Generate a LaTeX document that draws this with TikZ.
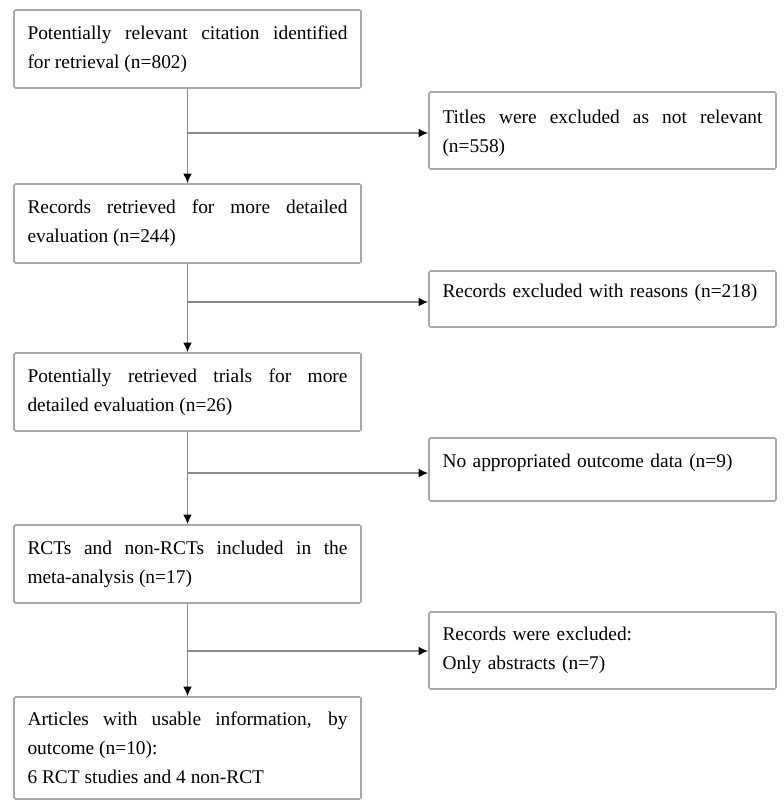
\documentclass[tikz,border=0pt]{standalone}
\usepackage{fontspec}
\setmainfont{Liberation Serif}
\usetikzlibrary{arrows.meta}
\definecolor{boxline}{HTML}{A8A8A8}
\definecolor{conline}{HTML}{8A8A8A}
\tikzset{
  x=1pt, y=-1pt,
  flowbox/.style={draw=boxline, line width=1.6pt, rounded corners=1.5pt,
    minimum width=347pt, text width=320pt, inner xsep=13.5pt, inner ysep=0pt,
    align=justify, font=\fontsize{19.4}{29}\selectfont, text=black},
  sidebox/.style={flowbox, align=left},
  conn/.style={draw=conline, line width=1.3pt,
    -{Latex[length=9.5pt,width=8.5pt,color=black]}},
  branch/.style={draw=conline, line width=1.3pt}
}
\begin{document}
\begin{tikzpicture}
\useasboundingbox (0,0) rectangle (784,809);
% main column
\node[flowbox, minimum height=78pt] (b1) at (187.5,49)
  {Potentially relevant citation identified\linebreak for retrieval (n=802)};
\node[flowbox, minimum height=79pt] (b2) at (187.5,223.5)
  {Records retrieved for more detailed\linebreak evaluation (n=244)};
\node[flowbox, minimum height=78pt] (b3) at (187.5,392)
  {Potentially retrieved trials for more\linebreak detailed evaluation (n=26)};
\node[flowbox, minimum height=78pt] (b4) at (187.5,564)
  {RCTs and non-RCTs included in the\linebreak meta-analysis (n=17)};
\node[flowbox, minimum height=102pt] (b5) at (187.5,748)
  {Articles with usable information, by\linebreak outcome (n=10):\newline 6 RCT studies and 4 non-RCT};
% side boxes
\node[flowbox, minimum height=77pt, text height=19pt] (r1) at (602.5,130.5)
  {Titles were excluded as not relevant\linebreak (n=558)};
\node[sidebox, minimum height=56pt, text depth=16pt] (r2) at (602.5,299)
  {Records excluded with reasons (n=218)};
\node[sidebox, minimum height=63pt, text depth=17pt] (r3) at (602.5,469.5)
  {No appropriated outcome data (n=9)};
\node[sidebox, minimum height=77pt] (r4) at (602.5,650.5)
  {Records were excluded:\\Only abstracts (n=7)};
% junctions on the main column
\coordinate (j1) at (187.5,133);
\coordinate (j2) at (187.5,302);
\coordinate (j3) at (187.5,473);
\coordinate (j4) at (187.5,651);
% vertical connectors
\draw[conn] (b1.south) -- (b2.north);
\draw[conn] (b2.south) -- (b3.north);
\draw[conn] (b3.south) -- (b4.north);
\draw[conn] (b4.south) -- (b5.north);
% side connectors
\draw[conn] (j1) -- (j1 -| r1.west);
\draw[conn] (j2) -- (j2 -| r2.west);
\draw[conn] (j3) -- (j3 -| r3.west);
\draw[conn] (j4) -- (j4 -| r4.west);
\end{tikzpicture}
\end{document}
